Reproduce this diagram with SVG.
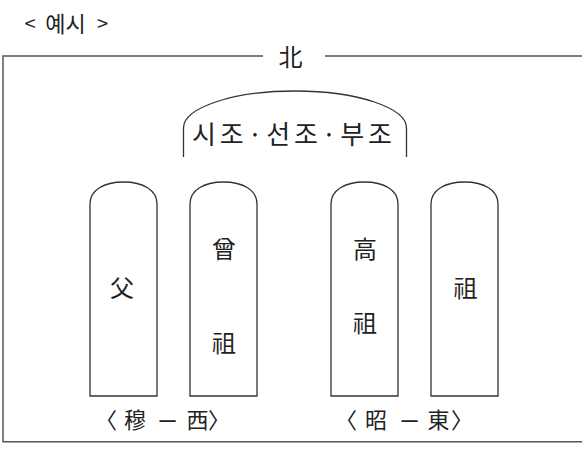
<svg xmlns="http://www.w3.org/2000/svg" width="582" height="451" viewBox="0 0 582 451">
<style>
.frame{fill:none;stroke:#555;stroke-width:1.5}
.shape{fill:#fff;stroke:#333;stroke-width:1.3}
.t{font-family:"Noto Sans CJK KR","Noto Sans CJK SC",sans-serif;fill:#222;text-anchor:middle;dominant-baseline:central}
.c{font-size:24px}
.l{font-size:22px}
.d{font-size:20px;font-weight:bold}
</style>
<rect width="582" height="451" fill="#fff"/>
<g id="header">
<text class="t" x="30" y="22" font-size="20">&lt;</text>
<text class="t" x="65.5" y="22" font-size="22">예시</text>
<text class="t" x="102.5" y="22" font-size="20">&gt;</text>
</g>
<g id="frame">
<path class="frame" d="M263,56 H3 V441.7 H582"/>
<path class="frame" d="M325,56 H582"/>
<text class="t" x="290.5" y="55" font-size="24">北</text>
</g>
<g id="ancestors">
<path class="shape" d="M183.5,157 V128 C183.5,108 232,91 295,91 C358,91 406.5,108 406.5,128 V157"/>
<text class="t" x="292" y="132" font-size="26" textLength="200" lengthAdjust="spacing">시조·선조·부조</text>
</g>
<g id="tablet-father">
<path class="shape" d="M90,396 V204 C90,190 104,182 123.5,182 C143,182 157,190 157,204 V396 Z"/>
<text class="t c" x="122" y="286">父</text>
</g>
<g id="tablet-great-grandfather">
<path class="shape" d="M190,396 V204 C190,190 204,182 223.5,182 C243,182 257,190 257,204 V396 Z"/>
<text class="t c" x="224" y="247">曾</text>
<text class="t c" x="224" y="341">祖</text>
</g>
<g id="tablet-great-great-grandfather">
<path class="shape" d="M331,396 V204 C331,190 345,182 364.5,182 C384,182 398,190 398,204 V396 Z"/>
<text class="t c" x="365" y="247">高</text>
<text class="t c" x="365" y="321">祖</text>
</g>
<g id="tablet-grandfather">
<path class="shape" d="M431,396 V204 C431,190 445,182 464.5,182 C484,182 498,190 498,204 V396 Z"/>
<text class="t c" x="465.5" y="286">祖</text>
</g>
<g id="labels">
<text class="t l" y="418"><tspan x="106">〈</tspan><tspan x="135">穆</tspan><tspan class="d" x="167.5">—</tspan><tspan x="197.5">西</tspan><tspan x="219">〉</tspan></text>
<text class="t l" y="418"><tspan x="346">〈</tspan><tspan x="376">昭</tspan><tspan class="d" x="409.5">—</tspan><tspan x="438.5">東</tspan><tspan x="462">〉</tspan></text>
</g>
</svg>
